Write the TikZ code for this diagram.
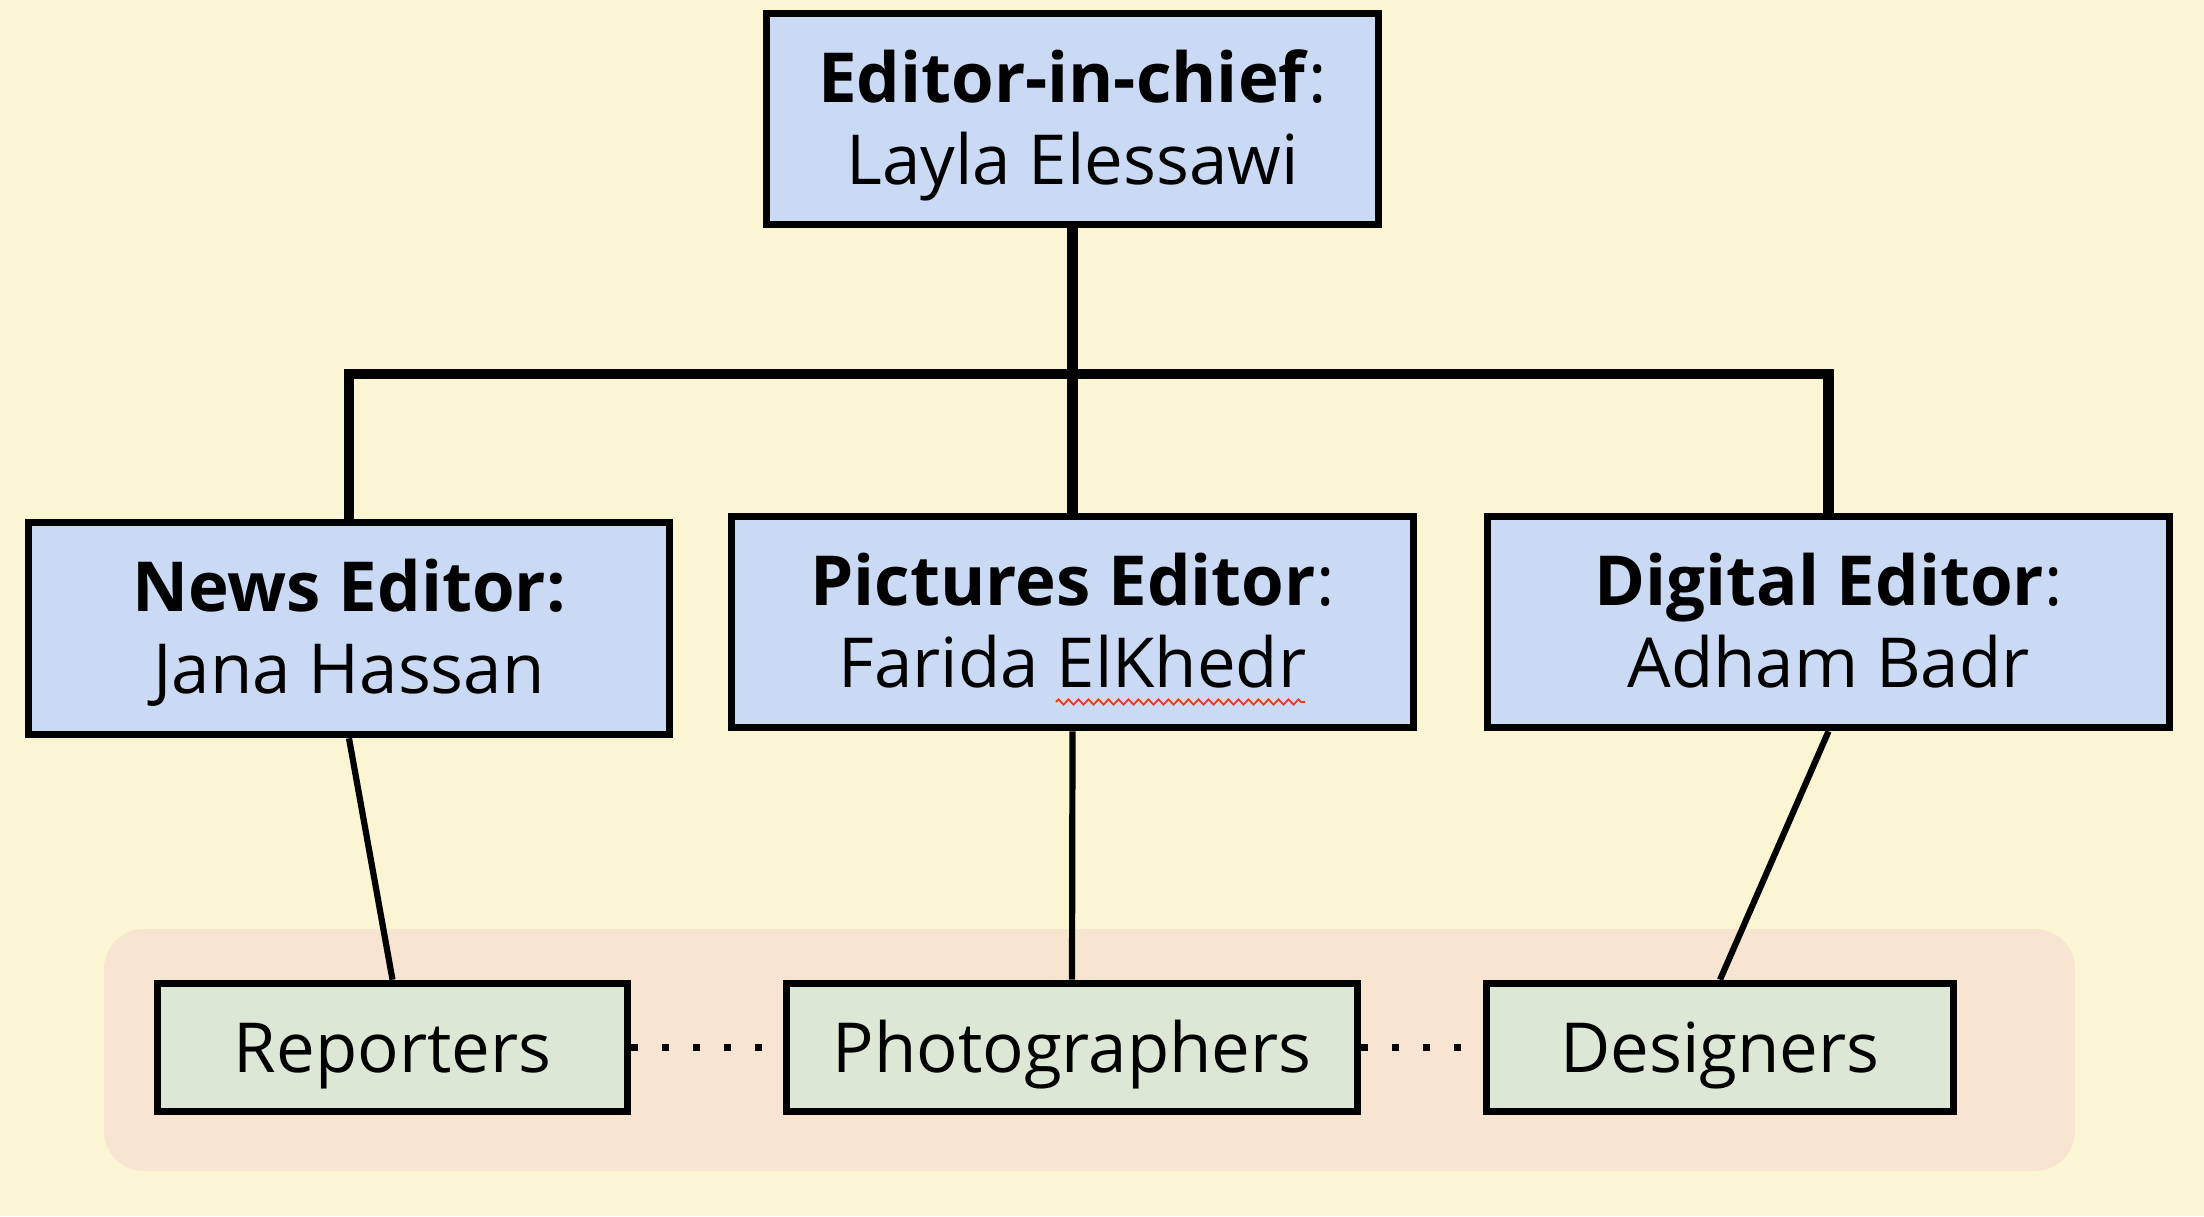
\documentclass[tikz,border=0pt]{standalone}
\usepackage{fontspec}
\setmainfont{Open Sans}
\usetikzlibrary{decorations.pathmorphing}
\definecolor{bgc}{HTML}{FBF5D3}
\definecolor{bluec}{HTML}{CAD9F4}
\definecolor{grpc}{HTML}{F8E5D1}
\definecolor{greenc}{HTML}{DCE8D5}
\definecolor{spellc}{HTML}{E0402A}
\begin{document}
\begin{tikzpicture}[x=0.5pt,y=-0.5pt,
  ebox/.style={draw=black, line width=3.8pt, fill=bluec, align=center, inner sep=0pt,
    text height=71pt, text depth=6pt,
    font=\fontsize{34.5}{41}\selectfont},
  sbox/.style={draw=black, line width=3.8pt, fill=greenc, align=center, inner sep=0pt,
    text height=30pt, text depth=5.5pt,
    minimum height=64pt, font=\fontsize{34.5}{41}\selectfont},
  trunk/.style={line width=5.2pt, line join=miter},
  link/.style={line width=3.1pt},
  dotline/.style={line width=3.5pt, dash pattern=on 3.5pt off 12pt},
]
\fill[bgc] (0,0) rectangle (2204,1216);
\useasboundingbox (0,0) rectangle (2204,1216);

\fill[grpc, rounded corners=20pt] (104,929) rectangle (2075,1171);

\node[ebox, minimum width=306pt, minimum height=105.5pt] (chief) at (1072.5,119)
  {\textbf{Editor-in-chief}:\\Layla Elessawi};
\node[ebox, minimum width=320.5pt, minimum height=106pt] (news) at (349,628.5)
  {\textbf{News Editor:}\\Jana Hassan};
\node[ebox, minimum width=341pt, minimum height=105.5pt] (pict) at (1072.5,622)
  {\textbf{Pictures Editor}:\\Farida ElKhedr};
\node[ebox, minimum width=341pt, minimum height=105.5pt] (digi) at (1828.5,622)
  {\textbf{Digital Editor}:\\Adham Badr};

\node[sbox, minimum width=235pt] (rep) at (392.5,1047.5) {Reporters};
\node[sbox, minimum width=285.5pt] (pho) at (1072,1047.5) {Photographers};
\node[sbox, minimum width=233.5pt] (des) at (1720,1047.5) {Designers};

\coordinate (bus) at (1072.5,374);
\draw[trunk] (chief.south) -- (pict.north);
\draw[trunk] (news.north) |- (bus) -| (digi.north);

\draw[link] (news.south) -- (rep.north);
\draw[link] (pict.south) -- (pho.north);
\draw[link] (digi.south) -- (des.north);

\draw[dotline] (rep.east) -- (pho.west);
\draw[dotline] (pho.east) -- (des.west);

\draw[spellc, line width=0.9pt, decorate,
  decoration={zigzag, segment length=5pt, amplitude=1.3pt}] (1056,702) -- (1305,702);
\end{tikzpicture}
\end{document}
